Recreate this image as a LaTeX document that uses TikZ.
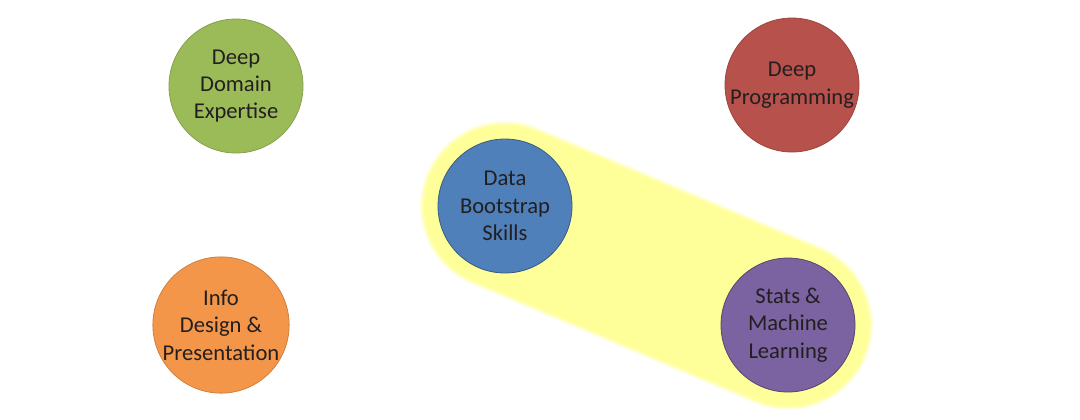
\documentclass[tikz,border=0pt]{standalone}
\usepackage{fontspec}
\setmainfont{Carlito}
\usepackage{xcolor}
\usetikzlibrary{positioning}

\definecolor{domaingreen}{HTML}{9BBB59}
\definecolor{progred}{HTML}{B7514B}
\definecolor{bootblue}{HTML}{4F80BA}
\definecolor{infoorange}{HTML}{F39649}
\definecolor{statspurple}{HTML}{7B62A0}
\definecolor{glowyellow}{HTML}{FFFF99}
\definecolor{inktext}{HTML}{231F20}

\begin{document}
\begin{tikzpicture}[
    x=0.5pt, y=-0.5pt,
    bubble/.style={circle, minimum size=67pt, inner sep=0pt, align=center, text=inktext, font=\fontsize{11.3}{13.7}\selectfont, line width=0.4pt},
    capsule/.style={line cap=round, draw=glowyellow},
  ]
    \useasboundingbox (0,0) rectangle (1080,419);

    \coordinate (bootc) at (505,206);
    \coordinate (statsc) at (788,325);
    % soft yellow band behind the two skills
    \draw[capsule, line width=85pt, draw opacity=0.35] (bootc) -- (statsc);
    \draw[capsule, line width=83pt, draw opacity=0.6] (bootc) -- (statsc);
    \draw[capsule, line width=81pt] (bootc) -- (statsc);

    \node[bubble, fill=domaingreen, draw=domaingreen!85!black] (domain) at (236,86) {Deep\\Domain\\Expertise};
    \node[bubble, fill=progred, draw=progred!85!black] (prog) at (792,85) {Deep\\Programming};
    \node[bubble, fill=bootblue, draw=bootblue!70!black] (boot) at (bootc) {Data\\Bootstrap\\Skills};
    \node[bubble, fill=infoorange, draw=infoorange!85!black] (info) at (221,325) {Info\\Design \&\\Presentation};
    \node[bubble, fill=statspurple, draw=statspurple!70!black] (stats) at (statsc) {Stats \&\\Machine\\Learning};
\end{tikzpicture}
\end{document}
